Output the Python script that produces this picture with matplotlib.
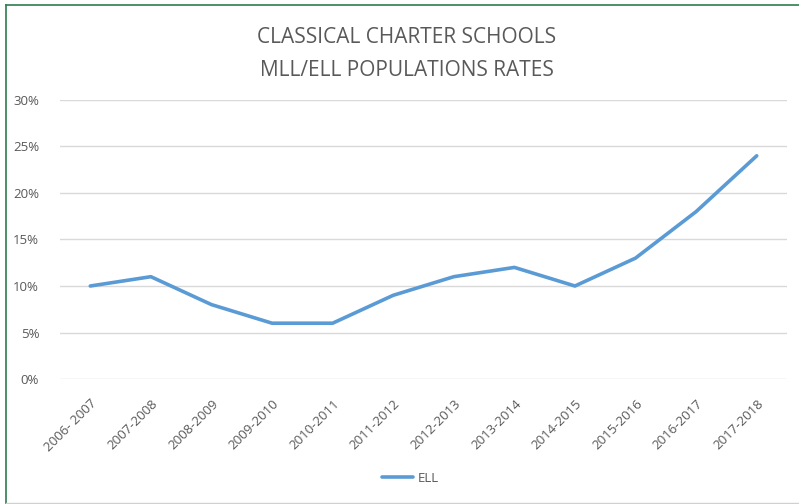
import matplotlib
matplotlib.use("Agg")
import matplotlib.pyplot as plt
from matplotlib.ticker import FuncFormatter, MultipleLocator

years = ["2006- 2007", "2007-2008", "2008-2009", "2009-2010", "2010-2011", "2011-2012",
         "2012-2013", "2013-2014", "2014-2015", "2015-2016", "2016-2017", "2017-2018"]
ell = [0.10, 0.11, 0.08, 0.06, 0.06, 0.09, 0.11, 0.12, 0.10, 0.13, 0.18, 0.24]

plt.rcParams['font.family'] = ['Open Sans', 'DejaVu Sans']
grey = '#595959'

fig = plt.figure(figsize=(7.99, 5.04), dpi=100)
fig.patch.set_facecolor('white')

# worksheet-style frame
fig.add_artist(plt.Line2D([6/799, 6/799], [0, 1 - 5/504], color='#2E7D4F', lw=1.2, transform=fig.transFigure))
fig.add_artist(plt.Line2D([6/799, 1], [1 - 5/504, 1 - 5/504], color='#2E7D4F', lw=1.2, transform=fig.transFigure))
fig.add_artist(plt.Line2D([6/799, 1], [1.5/504, 1.5/504], color='#D0D0D0', lw=1.0, transform=fig.transFigure))

ax = fig.add_axes([60/799, (504-379)/504, (787-60)/799, (379-100)/504])
x = list(range(len(years)))
ax.plot(x, ell, color='#5B9BD5', lw=2.6, solid_capstyle='round', label='ELL')
ax.set_xlim(-0.5, len(years) - 0.5)
ax.set_ylim(0, 0.30)
ax.yaxis.set_major_locator(MultipleLocator(0.05))
ax.yaxis.set_major_formatter(FuncFormatter(lambda v, p: f"{v*100:.0f}%"))
ax.grid(axis='y', color='#D9D9D9', lw=1.0)
ax.set_axisbelow(True)
for s in ax.spines.values():
    s.set_visible(False)
ax.tick_params(axis='both', length=0, colors=grey, labelsize=9.5)
ax.tick_params(axis='y', pad=15)
ax.set_xticks(x)
ax.set_xticklabels(years, rotation=45, ha='right', rotation_mode='anchor', color=grey, fontsize=9.5)
ax.tick_params(axis='x', pad=13)

fig.text(407/799, 1 - 54/504, "CLASSICAL CHARTER SCHOOLS\nMLL/ELL POPULATIONS RATES",
         ha='center', va='center', fontsize=15, color=grey, linespacing=1.8)

leg = fig.legend(loc='center', bbox_to_anchor=(410/799, 1 - 478/504), frameon=False,
                 fontsize=9.5, handlelength=2.4, handletextpad=0.3)
for t in leg.get_texts():
    t.set_color(grey)

fig.savefig("out.png", dpi=100)
